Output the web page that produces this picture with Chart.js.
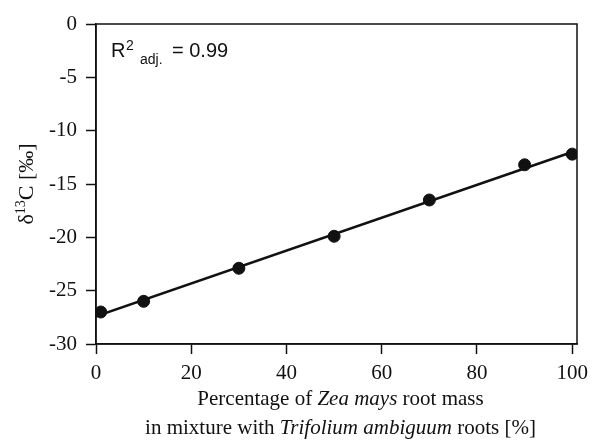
<!DOCTYPE html>
<html>
<head>
<meta charset="utf-8">
<script src="https://cdn.jsdelivr.net/npm/chart.js@4/dist/chart.umd.min.js"></script>
<style>
  html, body { margin: 0; padding: 0; background: #fff; }
</style>
</head>
<body>
<canvas id="chart" width="602" height="443"></canvas>
<script>
  'use strict';

  // measured points: % Zea mays root mass vs d13C
  var zeaPercent = [1, 10, 30, 50, 70, 90, 100];
  var delta13C = [-27.0, -26.0, -22.9, -19.9, -16.5, -13.2, -12.2];

  // regression line end points
  var fitX = [0, 100];
  var fitY = [-27.4, -12.0];

  var xTicks = [0, 20, 40, 60, 80, 100];
  var yTicks = [-30, -25, -20, -15, -10, -5, 0];

  var ink = '#111';
  var serif = "'Liberation Serif', 'Times New Roman', serif";
  var sans = "'Liberation Sans', Arial, sans-serif";

  function toPoints(xs, ys) {
    return xs.map(function(x, i) {
      return { x: x, y: ys[i] };
    });
  }

  function setFont(ctx, r) {
    ctx.font = (r.italic ? 'italic ' : '') + r.size + 'px ' + r.family;
  }

  // draws a run of text pieces, each piece can be italic / sized / raised
  function drawRuns(ctx, runs, x, y) {
    runs.forEach(function(r) {
      setFont(ctx, r);
      if (r.at !== undefined) x = r.at;
      ctx.fillText(r.text, x, y + (r.dy || 0));
      x += ctx.measureText(r.text).width;
    });
  }

  function runsWidth(ctx, runs) {
    return runs.reduce(function(w, r) {
      setFont(ctx, r);
      return w + ctx.measureText(r.text).width;
    }, 0);
  }

  var textPlugin = {
    id: 'labels',
    afterDraw: function(chart) {
      var ctx = chart.ctx;
      var area = chart.chartArea;
      ctx.save();

      // box round the plot
      ctx.strokeStyle = ink;
      ctx.lineWidth = 1.5;
      ctx.strokeRect(area.left, area.top, area.right - area.left, area.bottom - area.top);

      ctx.fillStyle = ink;
      ctx.textBaseline = 'alphabetic';
      ctx.textAlign = 'left';

      // x axis title, two lines
      var line1 = [
        { text: 'Percentage of ', size: 21, family: serif },
        { text: 'Zea mays', size: 21, family: serif, italic: true },
        { text: ' root mass', size: 21, family: serif }
      ];
      var line2 = [
        { text: 'in mixture with ', size: 21, family: serif },
        { text: 'Trifolium ambiguum', size: 21, family: serif, italic: true },
        { text: ' roots [%]', size: 21, family: serif }
      ];
      var cx = (area.left + area.right) / 2 + 4;
      drawRuns(ctx, line1, cx - runsWidth(ctx, line1) / 2, 405);
      drawRuns(ctx, line2, cx - runsWidth(ctx, line2) / 2, 434);

      // y axis title
      var ytitle = [
        { text: '\u03b4', size: 22, family: serif },
        { text: '13', size: 14, family: serif, dy: -8 },
        { text: 'C [\u2030]', size: 22, family: serif }
      ];
      ctx.save();
      ctx.translate(33, (area.top + area.bottom) / 2);
      ctx.rotate(-Math.PI / 2);
      drawRuns(ctx, ytitle, -runsWidth(ctx, ytitle) / 2, 0);
      ctx.restore();

      // fit quality
      drawRuns(ctx, [
        { text: 'R', size: 20, family: sans, at: 111 },
        { text: '2', size: 14, family: sans, dy: -7, at: 126 },
        { text: 'adj.', size: 14, family: sans, dy: 7, at: 140 },
        { text: '= 0.99', size: 20, family: sans, at: 172 }
      ], 111, 57);

      ctx.restore();
    }
  };

  var tickFont = { family: serif, size: 21 };

  new Chart(document.getElementById('chart'), {
    type: 'scatter',
    data: {
      datasets: [{
        label: 'fit',
        data: toPoints(fitX, fitY),
        showLine: true,
        borderColor: ink,
        borderWidth: 2.5,
        pointRadius: 0,
        order: 2
      }, {
        label: 'measured',
        data: toPoints(zeaPercent, delta13C),
        backgroundColor: ink,
        borderColor: ink,
        pointRadius: 6,
        pointHoverRadius: 6,
        order: 1
      }]
    },
    options: {
      responsive: false,
      animation: false,
      devicePixelRatio: 1,
      layout: { padding: { left: 0, top: 24, right: 25, bottom: 0 } },
      plugins: {
        legend: { display: false },
        tooltip: { enabled: false }
      },
      scales: {
        x: {
          type: 'linear',
          min: 0,
          max: 101,
          afterFit: function(scale) { scale.height = 99; },
          afterBuildTicks: function(scale) {
            scale.ticks = xTicks.map(function(v) { return { value: v }; });
          },
          ticks: { color: ink, font: tickFont, padding: 7, maxRotation: 0 },
          grid: { drawOnChartArea: false, tickLength: 10, tickColor: ink, tickWidth: 1.5 },
          border: { color: ink, width: 1.5 }
        },
        y: {
          type: 'linear',
          min: -30,
          max: 0,
          afterFit: function(scale) { scale.width = 96; },
          afterBuildTicks: function(scale) {
            scale.ticks = yTicks.map(function(v) { return { value: v }; });
          },
          ticks: { color: ink, font: tickFont, padding: 9 },
          grid: { drawOnChartArea: false, tickLength: 10, tickColor: ink, tickWidth: 1.5 },
          border: { color: ink, width: 1.5 }
        }
      }
    },
    plugins: [textPlugin]
  });
</script>
</body>
</html>
